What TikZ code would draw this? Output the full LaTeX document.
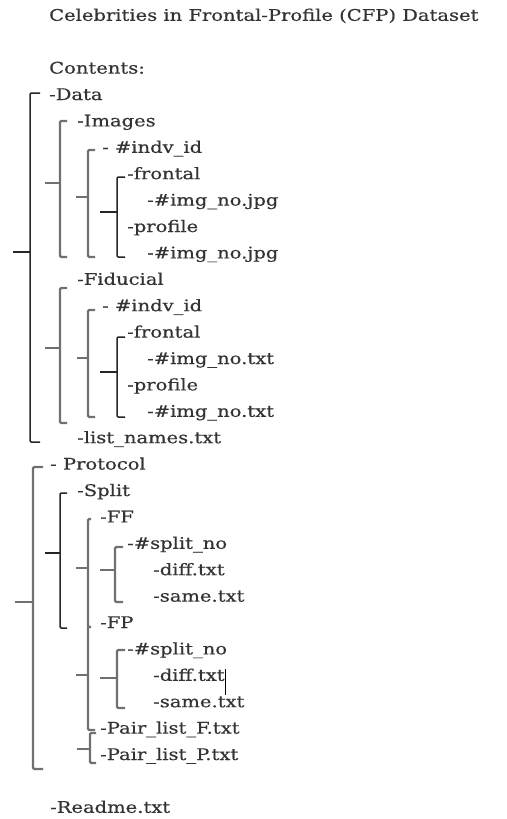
\documentclass[tikz,border=0pt]{standalone}
\usepackage{fontspec}
\setmainfont{DejaVu Serif}[FakeStretch=1.22, FakeBold=0.5]
\definecolor{ink}{HTML}{333333}
\definecolor{brdark}{HTML}{262626}
\definecolor{brgray}{HTML}{707070}
\tikzset{
  entry/.style={anchor=base west, inner sep=0pt, text=ink,
                font=\fontsize{16}{18}\selectfont},
  brk/.style={draw=brdark, line width=1.5pt, rounded corners=1.2pt},
  brkg/.style={draw=brgray, line width=2.3pt, rounded corners=1.2pt},
  cursorbar/.style={draw=black, line width=1pt},
}
% one text row: name, left x, row index, text (rows are 26.4 units apart)
\newcommand\row[4]{\node[entry] (#1) at (#2,{100+26.4*#3}) {#4};}
% bracket: style, x, top, bottom, middle tick y, middle tick left x, end tick length
\newcommand\grp[7]{%
  \draw[#1] (#2+#7,#3) -- (#2,#3) -- (#2,#4) -- (#2+#7,#4);
  \draw[#1] (#6,#5) -- (#2,#5);}
\begin{document}
\begin{tikzpicture}[x=1pt,y=-1pt]
\useasboundingbox (0,0) rectangle (506,819);

% title and heading
\row{title}{49}{-3}{Celebrities in Frontal-Profile (CFP) Dataset}
\row{contents}{49}{-1}{Contents:}

% Data tree
\row{data}{49}{0}{-Data}
\row{images}{77}{1}{-Images}
\row{imgid}{102}{2}{- \#indv\_id}
\row{imgfront}{127}{3}{-frontal}
\row{imgfrontfile}{147}{4}{-\#img\_no.jpg}
\row{imgprof}{127}{5}{-profile}
\row{imgproffile}{147}{6}{-\#img\_no.jpg}
\row{fiducial}{77}{7}{-Fiducial}
\row{fidid}{102}{8}{- \#indv\_id}
\row{fidfront}{127}{9}{-frontal}
\row{fidfrontfile}{147}{10}{-\#img\_no.txt}
\row{fidprof}{127}{11}{-profile}
\row{fidproffile}{147}{12}{-\#img\_no.txt}
\row{listnames}{77}{13}{-list\_names.txt}

% Protocol tree
\row{protocol}{50}{14}{- Protocol}
\row{split}{77}{15}{-Split}
\row{ff}{100}{16}{-FF}
\row{ffsplit}{127}{17}{-\#split\_no}
\row{ffdiff}{153}{18}{-diff.txt}
\row{ffsame}{153}{19}{-same.txt}
\row{fp}{100}{20}{-FP}
\row{fpsplit}{127}{21}{-\#split\_no}
\row{fpdiff}{153}{22}{-diff.txt}
\row{fpsame}{153}{23}{-same.txt}
\row{pairf}{100}{24}{-Pair\_list\_F.txt}
\row{pairp}{100}{25}{-Pair\_list\_P.txt}

\row{readme}{50}{27}{-Readme.txt}

% brackets of the Data tree
\grp{brk}{30}{93}{442}{252}{13}{10}
\grp{brkg}{60}{121}{257}{183}{45}{7}
\grp{brkg}{88}{150}{257}{197}{76}{7}
\grp{brk}{117}{177}{257}{212}{100}{8}
\grp{brkg}{60}{288}{423}{348}{45}{7}
\grp{brkg}{88}{310}{417}{358}{77}{7}
\grp{brk}{117}{337}{417}{372}{100}{8}

% brackets of the Protocol tree
\grp{brkg}{33}{467}{769}{602}{15}{10}
\grp{brk}{60}{493}{628}{553}{45}{7}
\grp{brkg}{88}{519}{627}{568}{76}{3}
\grp{brkg}{115}{547}{602}{570}{100}{8}
\draw[brkg] (88,627) -- (88,730) -- (95,730);
\draw[brkg] (76,675) -- (88,675);
\grp{brkg}{117}{650}{708}{678}{100}{8}
\grp{brkg}{90}{733}{763}{749}{77}{6}

% text cursor after diff.txt
\draw[cursorbar] (fpdiff.base east) ++(1,-12) coordinate (cur) -- ++(0,26);
\end{tikzpicture}
\end{document}
